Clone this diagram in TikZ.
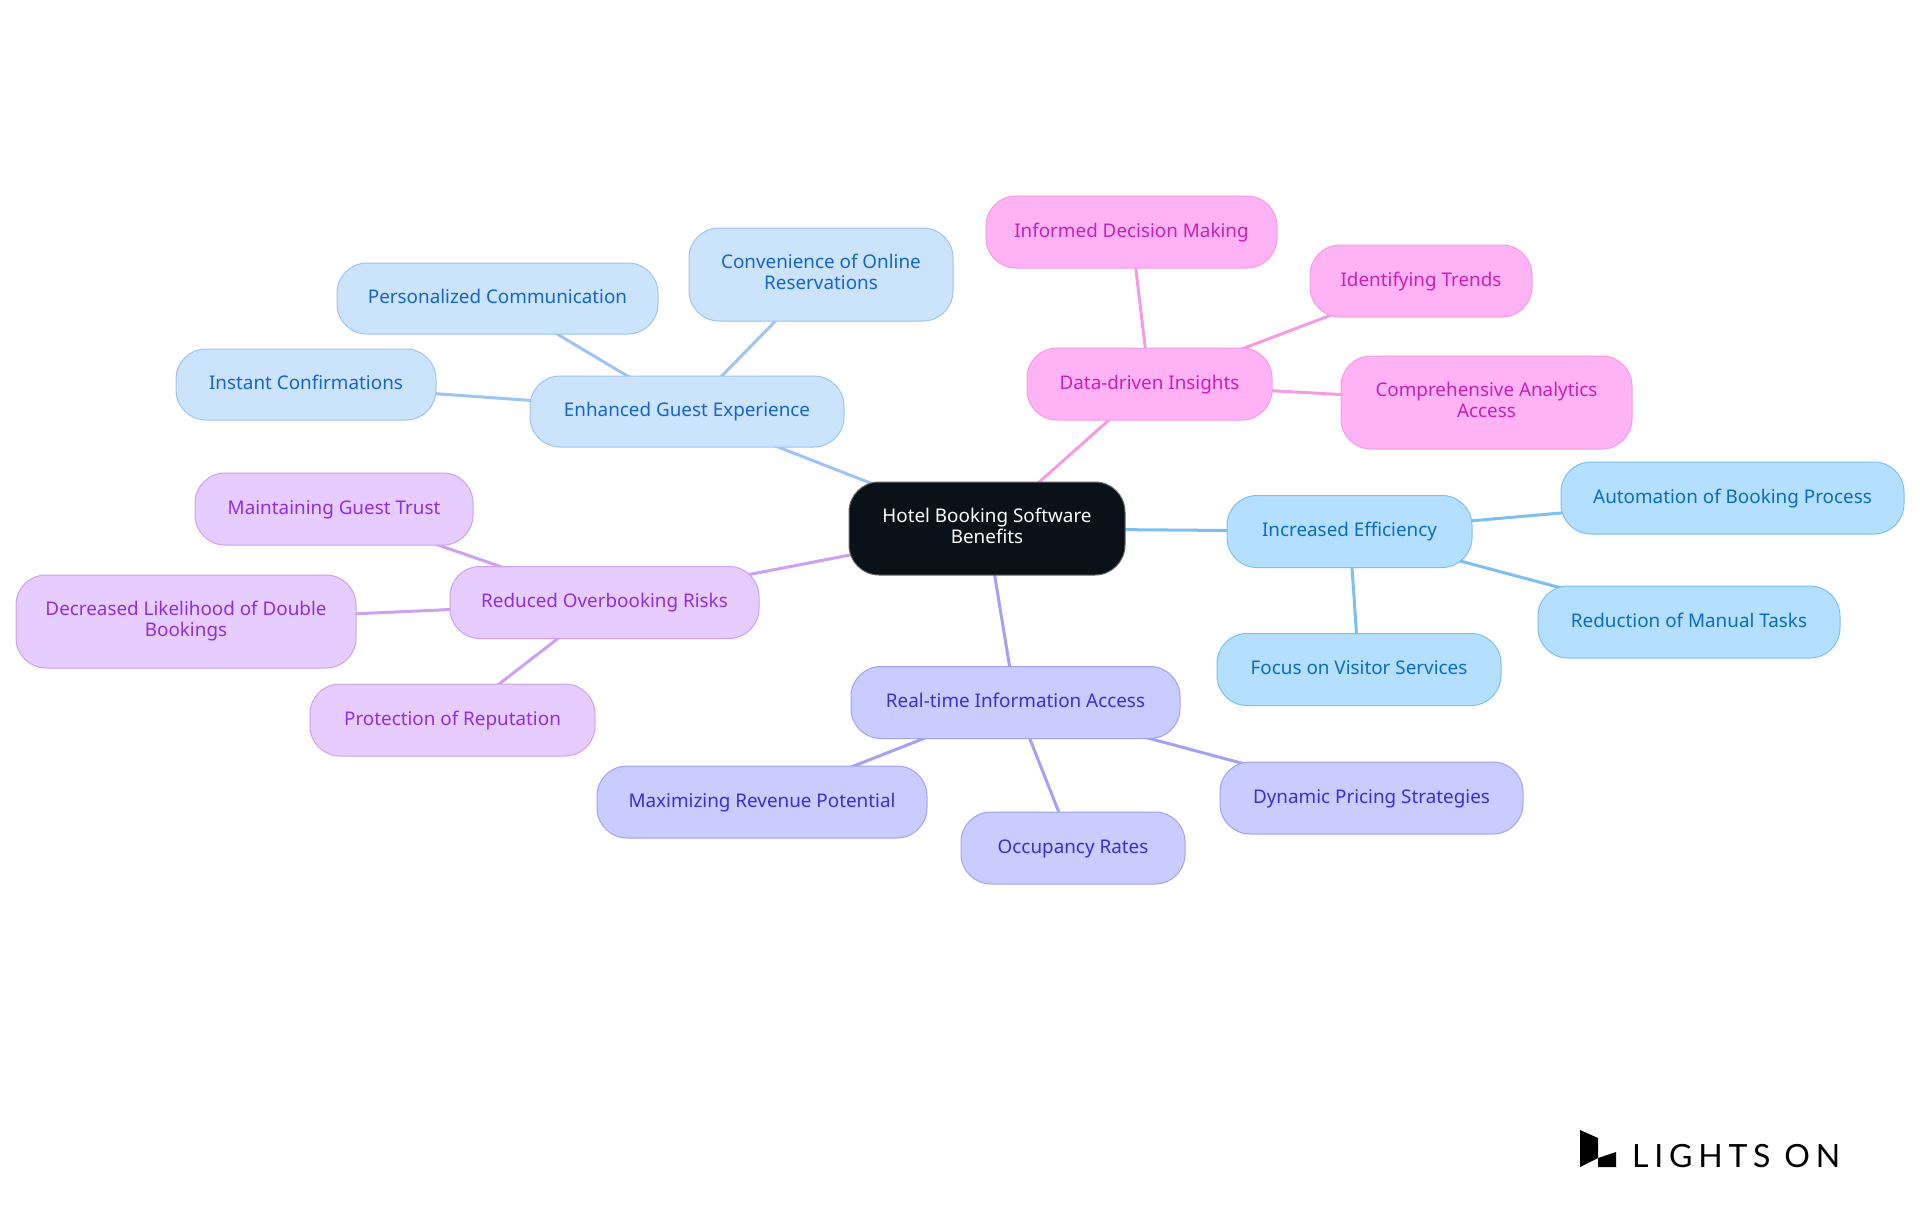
\documentclass[tikz,border=0pt]{standalone}
\usepackage{fontspec}
\setmainfont{Noto Sans}
\newfontfamily\logofont[LetterSpace=18]{Lato}
\usepackage{xcolor}
\usetikzlibrary{backgrounds}

\definecolor{rootfill}{HTML}{0B1119}
\definecolor{guestfill}{HTML}{CCE3FC}
\definecolor{guestline}{HTML}{9DC4F2}
\definecolor{guesttext}{HTML}{1565C8}
\definecolor{efffill}{HTML}{B5DFFF}
\definecolor{effline}{HTML}{7CBFF0}
\definecolor{efftext}{HTML}{0A6CBF}
\definecolor{insfill}{HTML}{FFB3F5}
\definecolor{insline}{HTML}{F59BE3}
\definecolor{instext}{HTML}{C91FB4}
\definecolor{riskfill}{HTML}{E6CCFF}
\definecolor{riskline}{HTML}{CDA0F2}
\definecolor{risktext}{HTML}{8F2FDB}
\definecolor{timefill}{HTML}{C8CCFF}
\definecolor{timeline}{HTML}{A5A0F2}
\definecolor{timetext}{HTML}{3A2FD0}
\newcommand{\mmstrut}{\rule[-5.65pt]{0pt}{21.5pt}}

\begin{document}
\begin{tikzpicture}[
  x=1pt, y=-1pt,
  font=\fontsize{18.85}{21.5}\selectfont,
  mm/.style={draw, rounded corners=30pt, line width=1pt, align=center, inner sep=0pt,
    execute at begin node=\mmstrut},
  rootnode/.style={mm, fill=rootfill, draw=gray!80!black, text=white},
  guest/.style={mm, fill=guestfill, draw=guestline, text=guesttext},
  eff/.style={mm, fill=efffill, draw=effline, text=efftext},
  ins/.style={mm, fill=insfill, draw=insline, text=instext},
  risk/.style={mm, fill=riskfill, draw=riskline, text=risktext},
  timeb/.style={mm, fill=timefill, draw=timeline, text=timetext},
  guestarr/.style={draw=guestline, line width=3pt},
  effarr/.style={draw=effline, line width=3pt},
  insarr/.style={draw=insline, line width=3pt},
  riskarr/.style={draw=riskline, line width=3pt},
  timearr/.style={draw=timeline, line width=3pt},
]
\useasboundingbox (0,0) rectangle (1920,1215);
% Root
\node[rootnode, minimum width=276pt, minimum height=93pt] (root) at (987,528.5) {Hotel Booking Software\\\mmstrut Benefits};
% Guest experience
\node[guest, minimum width=314pt, minimum height=71pt] (enh) at (687,411.5) {Enhanced Guest Experience};
\node[guest, minimum width=321pt, minimum height=71pt] (per) at (497.5,298.5) {Personalized Communication};
\node[guest, minimum width=264pt, minimum height=93pt] (con) at (821,274.5) {Convenience of Online\\\mmstrut Reservations};
\node[guest, minimum width=260pt, minimum height=71pt] (ins1) at (306,384.5) {Instant Confirmations};
% Insights
\node[ins, minimum width=245pt, minimum height=72pt] (dat) at (1149.5,384) {Data-driven Insights};
\node[ins, minimum width=291pt, minimum height=72pt] (inf) at (1131.5,232) {Informed Decision Making};
\node[ins, minimum width=222pt, minimum height=72pt] (ide) at (1421,281) {Identifying Trends};
\node[ins, minimum width=291pt, minimum height=93pt] (com) at (1486.5,402.5) {Comprehensive Analytics\\\mmstrut Access};
% Efficiency
\node[eff, minimum width=245pt, minimum height=72pt] (inc) at (1349.5,531.5) {Increased Efficiency};
\node[eff, minimum width=343pt, minimum height=72pt] (aut) at (1732.5,498) {Automation of Booking Process};
\node[eff, minimum width=302pt, minimum height=72pt] (red) at (1689,622) {Reduction of Manual Tasks};
\node[eff, minimum width=284pt, minimum height=72pt] (foc) at (1359,669.5) {Focus on Visitor Services};
% Real-time
\node[timeb, minimum width=329pt, minimum height=72pt] (rea) at (1015.5,702.5) {Real-time Information Access};
\node[timeb, minimum width=330pt, minimum height=72pt] (max) at (762,802) {Maximizing Revenue Potential};
\node[timeb, minimum width=224pt, minimum height=72pt] (occ) at (1073,848) {Occupancy Rates};
\node[timeb, minimum width=303pt, minimum height=72pt] (dyn) at (1371.5,798) {Dynamic Pricing Strategies};
% Overbooking
\node[risk, minimum width=309pt, minimum height=72pt] (rdc) at (604.5,602.5) {Reduced Overbooking Risks};
\node[risk, minimum width=278pt, minimum height=72pt] (mai) at (334,509) {Maintaining Guest Trust};
\node[risk, minimum width=340pt, minimum height=93pt] (dec) at (186,621.5) {Decreased Likelihood of Double\\\mmstrut Bookings};
\node[risk, minimum width=285pt, minimum height=72pt] (pro) at (452.5,720) {Protection of Reputation};
% Connectors
\begin{scope}[on background layer]
\draw[guestarr] (root.center)--(enh.center);
\draw[guestarr] (enh.center)--(per.center);
\draw[guestarr] (enh.center)--(con.center);
\draw[guestarr] (enh.center)--(ins1.center);
\draw[insarr] (root.center)--(dat.center);
\draw[insarr] (dat.center)--(inf.center);
\draw[insarr] (dat.center)--(ide.center);
\draw[insarr] (dat.center)--(com.center);
\draw[effarr] (root.center)--(inc.center);
\draw[effarr] (inc.center)--(aut.center);
\draw[effarr] (inc.center)--(red.center);
\draw[effarr] (inc.center)--(foc.center);
\draw[timearr] (root.center)--(rea.center);
\draw[timearr] (rea.center)--(max.center);
\draw[timearr] (rea.center)--(occ.center);
\draw[timearr] (rea.center)--(dyn.center);
\draw[riskarr] (root.center)--(rdc.center);
\draw[riskarr] (rdc.center)--(mai.center);
\draw[riskarr] (rdc.center)--(dec.center);
\draw[riskarr] (rdc.center)--(pro.center);
\end{scope}
% Logo
\fill[black] (1580,1130)--(1598,1138)--(1598,1158)--(1580,1167)--cycle;
\fill[black] (1598,1158)--(1616,1152)--(1616,1167)--(1598,1167)--cycle;
\node[anchor=base west, inner sep=0pt, font=\fontsize{32}{32}\logofont] (logo) at (1632,1167) {LIGHTS ON};
\end{tikzpicture}
\end{document}
